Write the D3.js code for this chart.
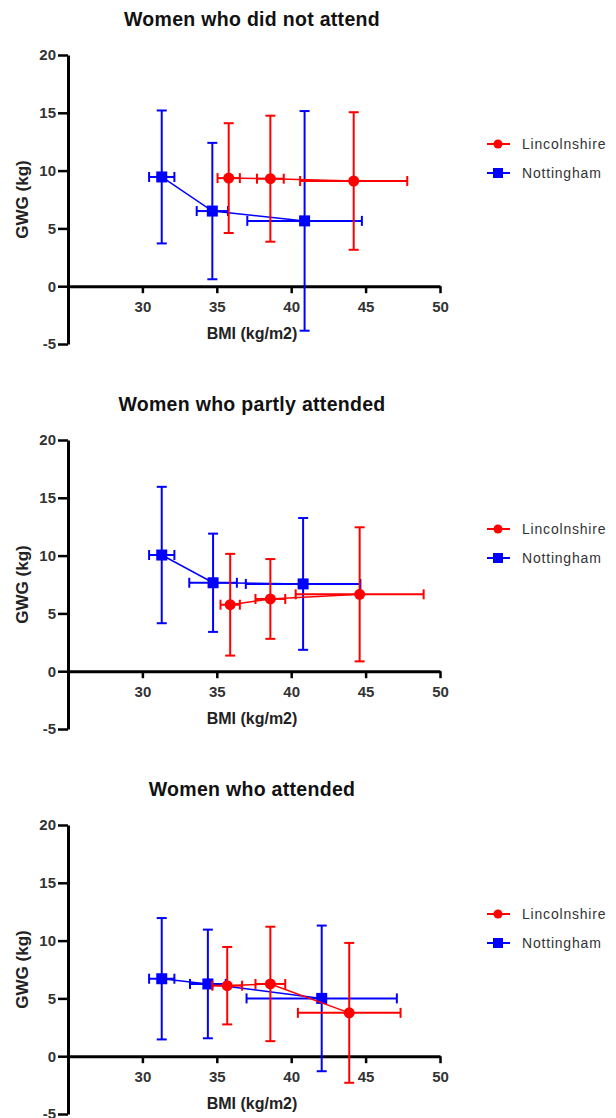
<!DOCTYPE html>
<html>
<head>
<meta charset="utf-8">
<script src="https://cdn.jsdelivr.net/npm/d3@7"></script>
<style>
  body { margin: 0; background: #fff; }
  text { font-family: "Liberation Sans", Arial, sans-serif; }
</style>
</head>
<body>
<svg id="chart" width="616" height="1118"></svg>
<script>
// panels (one per attendance group)
var titles = ["Women who did not attend", "Women who partly attended", "Women who attended"];
var seriesNames = ["Lincolnshire", "Nottingham"];
var xTicks = [30, 35, 40, 45, 50];
var yTicks = [-5, 0, 5, 10, 15, 20];

// Lincolnshire: mean BMI, SD BMI, mean GWG, SD GWG
var lincBmi = [[35.8, 38.6, 44.2], [35.9, 38.6, 44.6], [35.7, 38.6, 43.9]];
var lincBmiSd = [[0.75, 0.9, 3.6], [0.65, 1.0, 4.3], [1.0, 1.0, 3.45]];
var lincGwg = [[9.35, 9.3, 9.1], [5.75, 6.25, 6.65], [6.1, 6.25, 3.75]];
var lincGwgSd = [[4.75, 5.45, 5.95], [4.4, 3.45, 5.8], [3.35, 4.95, 6.05]];

// Nottingham
var nottBmi = [[31.3, 34.7, 40.9], [31.3, 34.75, 40.8], [31.3, 34.4, 42.05]];
var nottBmiSd = [[0.85, 1.05, 3.85], [0.85, 1.6, 3.85], [0.85, 1.2, 5.05]];
var nottGwg = [[9.45, 6.5, 5.65], [10.05, 7.65, 7.55], [6.7, 6.25, 5.0]];
var nottGwgSd = [[5.75, 5.9, 9.5], [5.9, 4.25, 5.7], [5.25, 4.7, 6.3]];

var colors = {"Lincolnshire": "#ff0000", "Nottingham": "#0000ff"};

var svg = d3.select("#chart");
var panelGap = 385;

var x = d3.scaleLinear().domain([25, 50]).range([68, 440]);
var y = d3.scaleLinear().domain([-5, 20]).range([344, 55]);

function rows(bmi, bmiSd, gwg, gwgSd) {
  return bmi.map(function (d, i) {
    return {bmi: d, bsd: bmiSd[i], gwg: gwg[i], gsd: gwgSd[i]};
  });
}

titles.forEach(function (title, p) {
  var g = svg.append("g").attr("transform", "translate(0," + (p * panelGap) + ")");

  g.append("text")
    .attr("x", 252).attr("y", 26)
    .attr("text-anchor", "middle")
    .style("font-size", "19.5px").style("font-weight", "bold")
    .style("letter-spacing", "0.3px")
    .attr("fill", "#111")
    .text(title);

  // y axis (plain hyphen for -5 like the original)
  var yAxis = g.append("g")
    .attr("transform", "translate(" + x(25) + ",0)")
    .call(d3.axisLeft(y).tickValues(yTicks).tickFormat(function (d) { return String(d); })
      .tickSize(10).tickSizeOuter(0).tickPadding(2));
  // x axis on GWG = 0
  var xAxis = g.append("g")
    .attr("transform", "translate(0," + y(0) + ")")
    .call(d3.axisBottom(x).tickValues(xTicks).tickSize(7).tickSizeOuter(0).tickPadding(8));

  [yAxis, xAxis].forEach(function (a) {
    a.select(".domain").attr("stroke", "#000").attr("stroke-width", 3);
    a.selectAll(".tick line").attr("stroke", "#000").attr("stroke-width", 2.5);
    a.selectAll(".tick text")
      .style("font-size", "15px").style("font-weight", "bold")
      .style("font-family", "Liberation Sans, Arial, sans-serif")
      .attr("fill", "#333");
  });

  g.append("text")
    .attr("x", 252).attr("y", 339)
    .attr("text-anchor", "middle")
    .style("font-size", "16px").style("font-weight", "bold")
    .attr("fill", "#222")
    .text("BMI (kg/m2)");

  g.append("text")
    .attr("transform", "translate(28," + y(7.5) + ") rotate(-90)")
    .attr("text-anchor", "middle")
    .style("font-size", "17px").style("font-weight", "bold")
    .attr("fill", "#222")
    .text("GWG (kg)");

  var data = {
    "Lincolnshire": rows(lincBmi[p], lincBmiSd[p], lincGwg[p], lincGwgSd[p]),
    "Nottingham": rows(nottBmi[p], nottBmiSd[p], nottGwg[p], nottGwgSd[p])
  };

  // nottingham first, lincolnshire drawn on top
  ["Nottingham", "Lincolnshire"].forEach(function (name) {
    var c = colors[name];
    var s = g.append("g");
    var pts = data[name];

    s.append("path")
      .datum(pts)
      .attr("fill", "none").attr("stroke", c).attr("stroke-width", 1.5)
      .attr("d", d3.line().x(function (d) { return x(d.bmi); }).y(function (d) { return y(d.gwg); }));

    var eb = s.selectAll(".eb").data(pts).enter().append("g").attr("class", "eb")
      .attr("stroke", c).attr("stroke-width", 2);
    // vertical bars (GWG sd)
    eb.append("line")
      .attr("x1", function (d) { return x(d.bmi); }).attr("x2", function (d) { return x(d.bmi); })
      .attr("y1", function (d) { return y(d.gwg - d.gsd); }).attr("y2", function (d) { return y(d.gwg + d.gsd); });
    eb.append("line")
      .attr("x1", function (d) { return x(d.bmi) - 5; }).attr("x2", function (d) { return x(d.bmi) + 5; })
      .attr("y1", function (d) { return y(d.gwg + d.gsd); }).attr("y2", function (d) { return y(d.gwg + d.gsd); });
    eb.append("line")
      .attr("x1", function (d) { return x(d.bmi) - 5; }).attr("x2", function (d) { return x(d.bmi) + 5; })
      .attr("y1", function (d) { return y(d.gwg - d.gsd); }).attr("y2", function (d) { return y(d.gwg - d.gsd); });
    // horizontal bars (BMI sd)
    eb.append("line")
      .attr("x1", function (d) { return x(d.bmi - d.bsd); }).attr("x2", function (d) { return x(d.bmi + d.bsd); })
      .attr("y1", function (d) { return y(d.gwg); }).attr("y2", function (d) { return y(d.gwg); });
    eb.append("line")
      .attr("x1", function (d) { return x(d.bmi - d.bsd); }).attr("x2", function (d) { return x(d.bmi - d.bsd); })
      .attr("y1", function (d) { return y(d.gwg) - 5; }).attr("y2", function (d) { return y(d.gwg) + 5; });
    eb.append("line")
      .attr("x1", function (d) { return x(d.bmi + d.bsd); }).attr("x2", function (d) { return x(d.bmi + d.bsd); })
      .attr("y1", function (d) { return y(d.gwg) - 5; }).attr("y2", function (d) { return y(d.gwg) + 5; });

    if (name == "Nottingham") {
      s.selectAll("rect.pt").data(pts).enter().append("rect").attr("class", "pt")
        .attr("x", function (d) { return x(d.bmi) - 5.5; })
        .attr("y", function (d) { return y(d.gwg) - 5.5; })
        .attr("width", 11).attr("height", 11).attr("fill", c);
    } else {
      s.selectAll("circle.pt").data(pts).enter().append("circle").attr("class", "pt")
        .attr("cx", function (d) { return x(d.bmi); })
        .attr("cy", function (d) { return y(d.gwg); })
        .attr("r", 5.5).attr("fill", c);
    }
  });

  // legend
  seriesNames.forEach(function (name, i) {
    var ly = 144 + i * 29;
    var c = colors[name];
    var lg = g.append("g");
    lg.append("line").attr("x1", 487).attr("x2", 510).attr("y1", ly).attr("y2", ly)
      .attr("stroke", c).attr("stroke-width", 2);
    if (name == "Nottingham") {
      lg.append("rect").attr("x", 493).attr("y", ly - 5).attr("width", 10).attr("height", 10).attr("fill", c);
    } else {
      lg.append("circle").attr("cx", 498).attr("cy", ly).attr("r", 4.5).attr("fill", c);
    }
    lg.append("text").attr("x", 522).attr("y", ly).attr("dy", "0.35em")
      .style("font-size", "14px").style("letter-spacing", "0.8px")
      .attr("fill", "#333")
      .text(name);
  });
});
</script>
</body>
</html>
